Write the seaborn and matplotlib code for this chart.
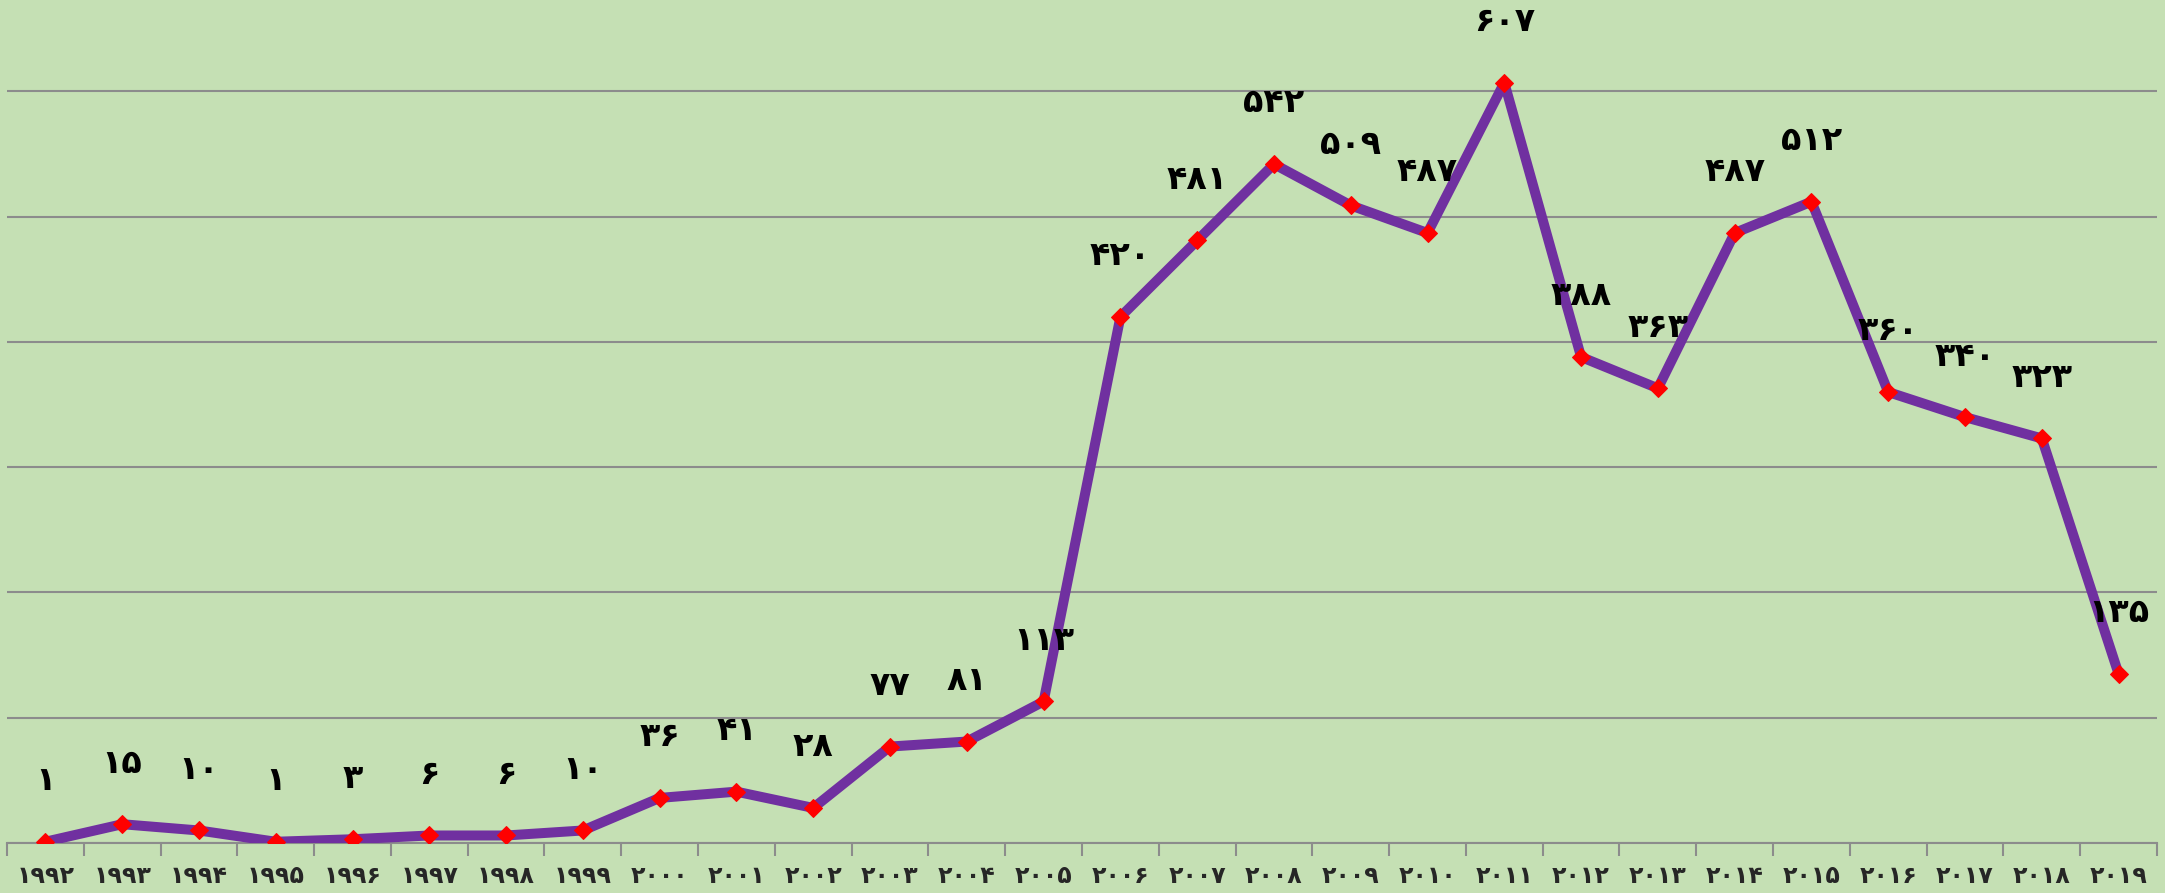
import matplotlib
matplotlib.use("Agg")
import matplotlib.pyplot as plt
import seaborn as sns
import pandas as pd
from matplotlib.ticker import FixedLocator

# data
years = list(range(1992, 2020))
counts = [1, 15, 10, 1, 3, 6, 6, 10, 36, 41, 28, 77, 81, 113,
          420, 481, 542, 509, 487, 607, 388, 363, 487, 512, 360, 340, 323, 135]

# western -> persian digits
fa = str.maketrans("0123456789", "۰۱۲۳۴۵۶۷۸۹")
year_labels = [str(y).translate(fa) for y in years]
value_labels = [str(v).translate(fa) for v in counts]

df = pd.DataFrame({"pos": range(len(years)), "count": counts})

bg = "#C5E0B4"
sns.set_style("white", {"axes.facecolor": bg, "figure.facecolor": bg})
plt.rcParams["font.family"] = ["DejaVu Sans"]

fig = plt.figure(figsize=(21.65, 8.93), dpi=100)
ax = fig.add_axes([7 / 2165, 50 / 893, 2150 / 2165, 843 / 893])

sns.lineplot(data=df, x="pos", y="count", ax=ax, color="#7030A0", linewidth=7.2,
             marker="D", markersize=9, markerfacecolor="red", markeredgecolor="red",
             zorder=3)

# value labels above each point
for i, (v, lab) in enumerate(zip(counts, value_labels)):
    ax.annotate(lab, (i, v), xytext=(0, 44), textcoords="offset points",
                ha="center", va="center", fontsize=24, fontweight="bold", color="black")

ax.set_xlim(-0.5, len(years) - 0.5)
ax.set_ylim(0, 673)

# horizontal gridlines every 100
ax.set_yticks(range(0, 700, 100))
ax.yaxis.grid(True, color="#8c8c8c", linewidth=1.5)
ax.tick_params(axis="y", left=False, labelleft=False)

# category labels at centres, tick marks at boundaries
ax.set_xticks(range(len(years)))
ax.set_xticklabels(year_labels, fontsize=17, fontweight="bold")
ax.xaxis.set_minor_locator(FixedLocator([i - 0.5 for i in range(len(years) + 1)]))
ax.tick_params(axis="x", which="major", bottom=True, length=0, pad=15)
ax.tick_params(axis="x", which="minor", bottom=True, length=9, width=1.5,
               color="#8c8c8c", direction="out")

for s in ["top", "left", "right"]:
    ax.spines[s].set_visible(False)
ax.spines["bottom"].set_color("#8c8c8c")
ax.spines["bottom"].set_linewidth(1.5)
ax.set_xlabel("")
ax.set_ylabel("")

fig.savefig("out.png", dpi=100, facecolor=bg)
